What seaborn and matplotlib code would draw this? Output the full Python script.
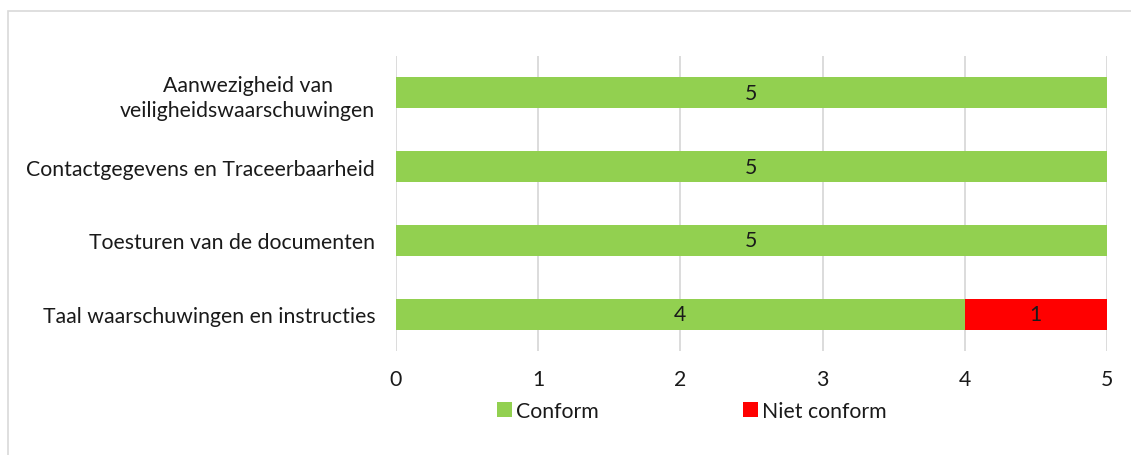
import matplotlib
matplotlib.use("Agg")
import matplotlib.pyplot as plt
import seaborn as sns
import pandas as pd
from matplotlib.patches import Rectangle, Patch

categories = ["Aanwezigheid van\nveiligheidswaarschuwingen",
              "Contactgegevens en Traceerbaarheid",
              "Toesturen van de documenten",
              "Taal waarschuwingen en instructies"]
conform = [5, 5, 5, 4]
niet_conform = [0, 0, 0, 1]
series_names = ["Conform", "Niet conform"]
xticks = [0, 1, 2, 3, 4, 5]

GREEN = "#92D050"
RED = "#FF0000"
TXT = "#1a1a1a"
FS = 15.3

sns.set_theme(style="white")
plt.rcParams['font.family'] = ['Lato', 'DejaVu Sans']

df = pd.DataFrame({"cat": categories, "conform": conform, "niet": niet_conform})
df["total"] = df["conform"] + df["niet"]

fig = plt.figure(figsize=(11.31, 4.56), dpi=100)
ax = fig.add_axes([396/1131, 1-352/456, (1107-396)/1131, (352-57)/456])

ax.set_axisbelow(True)
for x in xticks:
    ax.axvline(x, color="#D9D9D9", lw=1.3, zorder=0)

sns.barplot(data=df, y="cat", x="total", color=RED, orient="h", width=0.42,
            saturation=1, linewidth=0, ax=ax, zorder=2)
sns.barplot(data=df, y="cat", x="conform", color=GREEN, orient="h", width=0.42,
            saturation=1, linewidth=0, ax=ax, zorder=3)

for i, (c, n) in enumerate(zip(conform, niet_conform)):
    if c > 0:
        ax.text(c / 2, i, str(c), ha="center", va="center", fontsize=FS, color=TXT, zorder=4)
    if n > 0:
        ax.text(c + n / 2, i, str(n), ha="center", va="center", fontsize=FS, color=TXT, zorder=4)

ax.set_xlim(0, 5)
ax.set_ylim(3.5, -0.5)
ax.set_xticks(xticks)
ax.set_xticklabels([str(x) for x in xticks])
ax.set_xlabel("")
ax.set_ylabel("")
for s in ax.spines.values():
    s.set_visible(False)
ax.tick_params(axis="x", length=0, labelsize=FS, labelcolor=TXT, pad=13)
ax.tick_params(axis="y", length=0, labelsize=FS, labelcolor=TXT, pad=15)
for lab in ax.get_yticklabels():
    lab.set_horizontalalignment("right")
    lab.set_multialignment("center")
    lab.set_linespacing(1.3)

handles = [Patch(facecolor=GREEN, edgecolor="none"), Patch(facecolor=RED, edgecolor="none")]
fig.legend(handles, series_names, loc="center", bbox_to_anchor=(692/1131, 1-412/456),
           ncol=2, frameon=False, fontsize=FS, handlelength=0.7, handleheight=0.7,
           handletextpad=0.2, columnspacing=6.8, labelcolor=TXT)

fig.patches.append(Rectangle((8/1131, -0.1), 1.2, 1 - 12/456 + 0.1, transform=fig.transFigure,
                             fill=False, edgecolor="#D9D9D9", lw=1.2))

fig.savefig("out.png", dpi=100)
